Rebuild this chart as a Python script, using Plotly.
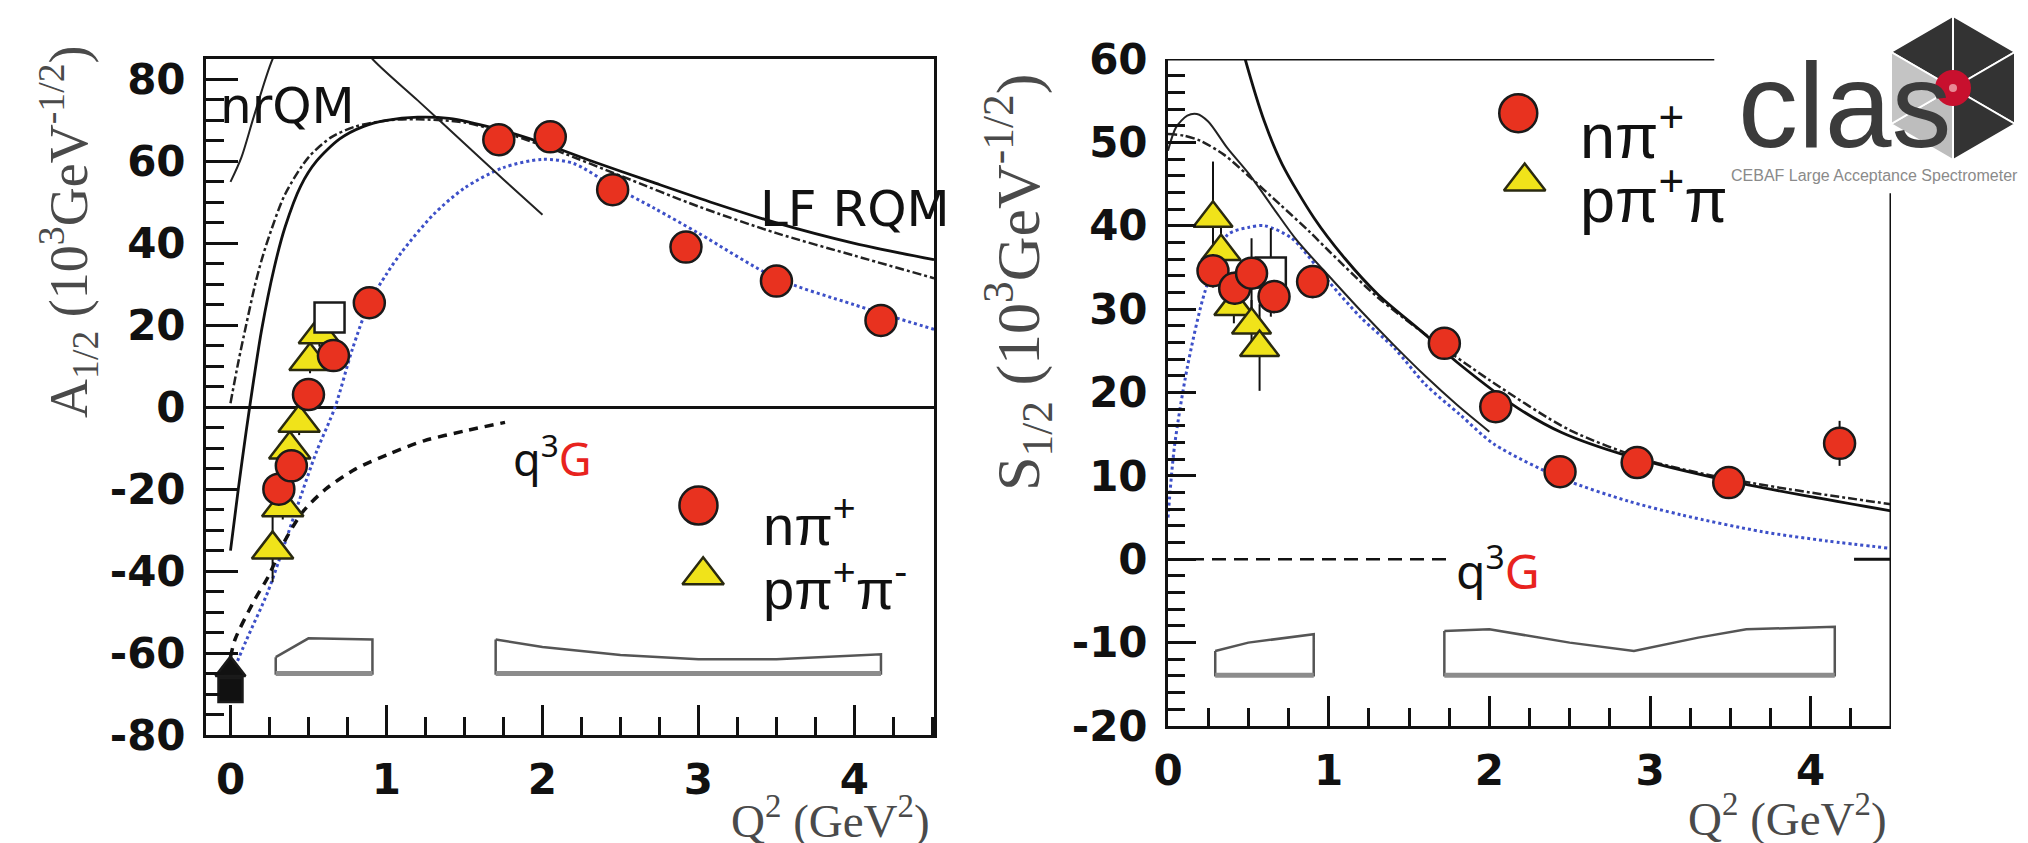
import plotly.graph_objects as go

W, H = 2028, 843

# ================= A1/2 panel (left) =================
a_npi_q2 = [0.31, 0.39, 0.50, 0.66, 0.89, 1.72, 2.05, 2.45, 2.92, 3.50, 4.17]
a_npi_val = [-20.0, -14.3, 3.1, 12.6, 25.5, 65.3, 66.0, 53.1, 39.1, 30.8, 21.2]
a_npi_err = [2.0, 2.0, 2.0, 2.0, 2.0, 2.0, 2.0, 2.0, 2.0, 2.0, 2.0]

a_ppp_q2 = [0.27, 0.335, 0.38, 0.44, 0.51, 0.57]
a_ppp_val = [-34.7, -24.4, -10.3, -3.8, 11.3, 17.8]
a_ppp_err = [8.0, 3.0, 3.0, 3.0, 3.0, 3.0]

a_sq_q2 = [0.635]
a_sq_val = [21.9]

a_pdg_q2 = [0.0]
a_pdg_sq_val = [-69.0]
a_pdg_tri_val = [-64.0]

a_lf_q2 = [0, 0.05, 0.1, 0.15, 0.2, 0.28, 0.35, 0.45, 0.55, 0.7, 0.85, 1.0, 1.2, 1.4, 1.7, 2.0, 2.3, 2.7, 3.1, 3.5, 4.0, 4.51]
a_lf_val = [-35, -20, -6, 7, 19, 34, 44, 54, 60, 65.5, 68.5, 70, 70.8, 70.5, 68, 64.5, 60.3, 55, 49.8, 45, 40, 36]

a_nr_q2 = [0, 0.07, 0.15, 0.27, 0.4, 0.55, 0.7, 0.91, 1.2, 1.5, 1.75, 2.0]
a_nr_val = [55, 61, 71, 85, 94, 98, 95, 85, 74.9, 64.4, 55.6, 47]

a_dd_q2 = [0, 0.05, 0.1, 0.155, 0.2, 0.25, 0.35, 0.5, 0.65, 0.8, 1.0, 1.2, 1.5, 1.8, 2.1, 2.5, 3.0, 3.5, 4.0, 4.51]
a_dd_val = [1, 11, 20, 29.5, 36, 42, 52, 61, 66, 68.5, 70, 70.3, 69.5, 66.5, 62.5, 56.5, 49, 42.5, 37, 31.5]

a_q3g_q2 = [0, 0.03, 0.155, 0.24, 0.35, 0.464, 0.61, 0.80, 1.01, 1.24, 1.50, 1.76]
a_q3g_val = [-61, -56.6, -47, -41.5, -32.5, -25.5, -20, -15.1, -11.5, -8.2, -5.8, -3.7]

a_blue_q2 = [0, 0.1, 0.24, 0.35, 0.43, 0.55, 0.67, 0.78, 0.89, 1.0, 1.1, 1.3, 1.5, 1.75, 2.0, 2.2, 2.45, 2.72, 3.0, 3.5, 4.0, 4.51]
a_blue_val = [-66, -57, -45, -33, -24, -11, 0, 14, 25.5, 32.5, 38, 47, 53.5, 58.5, 60.5, 59.5, 54, 48.5, 42.5, 31.5, 25, 19]

a_sys1_q2 = [0.29, 0.5, 0.91]
a_sys1_top = [-61.0, -56.4, -56.7]
a_sys2_q2 = [1.70, 2.0, 2.5, 3.0, 3.5, 4.17]
a_sys2_top = [-56.7, -58.5, -60.5, -61.5, -61.5, -60.3]
a_sys_bottom = -65.0

a_ytick_vals = [-80, -60, -40, -20, 0, 20, 40, 60, 80]
a_ytick_text = ["-80", "-60", "-40", "-20", "0", "20", "40", "60", "80"]

# ================= S1/2 panel (right) =================
s_npi_q2 = [0.28, 0.415, 0.52, 0.66, 0.90, 1.72, 2.04, 2.44, 2.92, 3.49, 4.18]
s_npi_val = [34.6, 32.5, 34.3, 31.5, 33.3, 25.9, 18.3, 10.5, 11.6, 9.2, 13.9]
s_npi_err = [2.0, 2.0, 4.2, 2.0, 2.0, 1.5, 1.5, 1.5, 1.8, 1.8, 2.7]

s_ppp_q2 = [0.28, 0.33, 0.41, 0.52, 0.57]
s_ppp_val = [40.9, 36.9, 30.3, 28.1, 25.4]
s_ppp_err = [6.8, 3.0, 2.0, 3.0, 5.2]

s_sq_q2 = [0.64]
s_sq_val = [34.4]
s_sq_err = [5.3]

s_lf_q2 = [0.4, 0.48, 0.6, 0.71, 0.91, 1.10, 1.31, 1.58, 1.82, 2.18, 2.45, 2.86, 3.49, 4.0, 4.5]
s_lf_val = [66, 60, 52.5, 47.4, 40.9, 36.1, 31.7, 27.3, 23.3, 18.1, 15.2, 12.4, 9.4, 7.5, 5.8]

s_nr_q2 = [0, 0.05, 0.12, 0.18, 0.25, 0.37, 0.5, 0.66, 0.8, 1.0, 1.2, 1.4, 1.6, 1.8, 2.0]
s_nr_val = [49, 51.8, 53.2, 53.4, 52.5, 49.3, 46.3, 42, 38.3, 34, 29.8, 25.8, 22, 18.5, 15.3]

s_dd_q2 = [0, 0.1, 0.2, 0.35, 0.5, 0.7, 0.88, 1.0, 1.3, 1.6, 2.0, 2.5, 3.0, 3.5, 4.0, 4.5]
s_dd_val = [51, 50.8, 50.2, 48.5, 46, 42.5, 39.3, 37, 31.5, 27, 21.5, 15.5, 11.8, 9.6, 8.0, 6.6]

s_blue_q2 = [0, 0.04, 0.12, 0.23, 0.37, 0.5, 0.6, 0.77, 1.0, 1.2, 1.41, 1.6, 1.82, 2.03, 2.45, 2.86, 3.2, 3.7, 4.1, 4.5]
s_blue_val = [5, 13.5, 23, 32.1, 38.9, 39.8, 40, 38.5, 33.3, 29, 25.3, 21, 17.3, 13.8, 9.7, 7.0, 5.3, 3.3, 2.2, 1.3]

s_q3g_q2 = [0.0, 1.75]
s_q3g_val = [0.0, 0.0]
s_q3g_end_q2 = [4.27, 4.5]
s_q3g_end_val = [0.0, 0.0]

s_sys1_q2 = [0.294, 0.5, 0.907]
s_sys1_top = [-11.0, -10.0, -9.0]
s_sys2_q2 = [1.72, 2.0, 2.5, 2.9, 3.3, 3.6, 4.15]
s_sys2_top = [-8.6, -8.4, -10.0, -11.0, -9.4, -8.4, -8.1]
s_sys_bottom = -13.9

s_ytick_vals = [-20, -10, 0, 10, 20, 30, 40, 50, 60]
s_ytick_text = ["-20", "-10", "0", "10", "20", "30", "40", "50", "60"]

# ================= styles =================
RED = "#e8321f"
YEL = "#f0e31a"
BLUE = "#3d50c8"
GRAYTXT = "#4a4a4a"
SANS = "Liberation Sans, Arial, sans-serif"
WIDE = "DejaVu Sans, Verdana, sans-serif"
SERIF = "Liberation Serif, Times New Roman, serif"

fig = go.Figure()


def curve(x, y, xa, ya, color, width, dash, spline=True):
    fig.add_trace(go.Scatter(
        x=x, y=y, xaxis=xa, yaxis=ya, mode="lines",
        line=dict(color=color, width=width, dash=dash,
                  shape="spline" if spline else "linear", smoothing=0.8),
        showlegend=False, hoverinfo="skip"))


def band(xs, tops, bottom, xa, ya):
    bx = list(xs) + [xs[-1], xs[0], xs[0]]
    by = list(tops) + [bottom, bottom, tops[0]]
    fig.add_trace(go.Scatter(x=bx, y=by, xaxis=xa, yaxis=ya, mode="lines",
                             line=dict(color="#555555", width=2.5),
                             showlegend=False, hoverinfo="skip"))
    fig.add_trace(go.Scatter(x=[xs[0], xs[-1]], y=[bottom, bottom], xaxis=xa, yaxis=ya,
                             mode="lines", line=dict(color="#8c8c8c", width=5),
                             showlegend=False, hoverinfo="skip"))


def points(x, y, err, xa, ya, symbol, size, color, lcolor="#1a1a1a"):
    fig.add_trace(go.Scatter(
        x=x, y=y, xaxis=xa, yaxis=ya, mode="markers",
        error_y=dict(type="data", array=err, color="#111111", thickness=2, width=0) if err else None,
        marker=dict(symbol=symbol, size=size, color=color, line=dict(color=lcolor, width=2.5)),
        showlegend=False, hoverinfo="skip", cliponaxis=False))


# ---- left panel ----
band(a_sys1_q2, a_sys1_top, a_sys_bottom, "x", "y")
band(a_sys2_q2, a_sys2_top, a_sys_bottom, "x", "y")
curve(a_blue_q2, a_blue_val, "x", "y", BLUE, 3, "dot")
curve(a_q3g_q2, a_q3g_val, "x", "y", "#111111", 3.5, "9px,7px")
curve(a_dd_q2, a_dd_val, "x", "y", "#222222", 2.5, "dashdot")
curve(a_nr_q2, a_nr_val, "x", "y", "#222222", 2, "solid")
curve(a_lf_q2, a_lf_val, "x", "y", "#111111", 2.8, "solid")
points(a_pdg_q2, a_pdg_sq_val, [3.0], "x", "y", "square", 24, "#111111")
points(a_pdg_q2, a_pdg_tri_val, None, "x", "y", "triangle-up", 26, "#111111")
points(a_ppp_q2, a_ppp_val, a_ppp_err, "x", "y", "triangle-up", 36, YEL, "#2a2a10")
points(a_sq_q2, a_sq_val, None, "x", "y", "square", 30, "white")
points(a_npi_q2, a_npi_val, a_npi_err, "x", "y", "circle", 31, RED)
# legend keys
points([3.0], [-24.0], None, "x", "y", "circle", 38, RED)
points([3.03], [-41.0], None, "x", "y", "triangle-up", 36, YEL, "#2a2a10")

# ---- right panel ----
band(s_sys1_q2, s_sys1_top, s_sys_bottom, "x2", "y2")
band(s_sys2_q2, s_sys2_top, s_sys_bottom, "x2", "y2")
curve(s_blue_q2, s_blue_val, "x2", "y2", BLUE, 3, "dot")
curve(s_q3g_q2, s_q3g_val, "x2", "y2", "#111111", 2.5, "14px,8px", spline=False)
curve(s_q3g_end_q2, s_q3g_end_val, "x2", "y2", "#111111", 3, "solid", spline=False)
curve(s_dd_q2, s_dd_val, "x2", "y2", "#222222", 2.5, "dashdot")
curve(s_nr_q2, s_nr_val, "x2", "y2", "#222222", 2, "solid")
curve(s_lf_q2, s_lf_val, "x2", "y2", "#111111", 2.8, "solid")
points(s_ppp_q2, s_ppp_val, s_ppp_err, "x2", "y2", "triangle-up", 34, YEL, "#2a2a10")
points(s_sq_q2, s_sq_val, s_sq_err, "x2", "y2", "square", 30, "white")
points(s_npi_q2, s_npi_val, s_npi_err, "x2", "y2", "circle", 31, RED)
points([2.18], [53.5], None, "x2", "y2", "circle", 38, RED)
points([2.22], [45.3], None, "x2", "y2", "triangle-up", 36, YEL, "#2a2a10")

tickfont = dict(family=WIDE, size=42, color="#111111", weight="bold")
common = dict(showgrid=False, showline=True, linecolor="#111111", linewidth=3, automargin=False,
              ticks="inside", tickcolor="#111111", tickwidth=3, tickfont=tickfont)

fig.update_layout(
    width=W, height=H, margin=dict(l=0, r=0, t=0, b=0, autoexpand=False),
    paper_bgcolor="white", plot_bgcolor="white", showlegend=False,
    xaxis=dict(domain=[198 / W, 926 / W], range=[-0.157, 4.51], anchor="y", mirror=True,
               dtick=1, tick0=0, ticklen=30, zeroline=False, ticklabelstandoff=6,
               minor=dict(ticks="inside", dtick=0.25, tick0=0, ticklen=18, tickwidth=3,
                          tickcolor="#111111", showgrid=False), **common),
    yaxis=dict(domain=[1 - 727 / H, 1 - 51 / H], range=[-80, 85], anchor="x", mirror=True,
               tickvals=a_ytick_vals, ticktext=a_ytick_text, ticklen=32,
               zeroline=True, zerolinecolor="#111111", zerolinewidth=3, ticklabelstandoff=9,
               minor=dict(ticks="inside", dtick=5, tick0=0, ticklen=18, tickwidth=3,
                          tickcolor="#111111", showgrid=False), **common),
    xaxis2=dict(domain=[1160 / W, 1883 / W], range=[0, 4.5], anchor="y2", mirror=False,
                dtick=1, tick0=0, ticklen=30, zeroline=False, ticklabelstandoff=6,
                minor=dict(ticks="inside", dtick=0.25, tick0=0, ticklen=18, tickwidth=3,
                           tickcolor="#111111", showgrid=False), **common),
    yaxis2=dict(domain=[1 - 718 / H, 1 - 51 / H], range=[-20, 60], anchor="x2", mirror=False,
                tickvals=s_ytick_vals, ticktext=s_ytick_text, ticklen=28, zeroline=False,
                ticklabelstandoff=9,
                minor=dict(ticks="inside", dtick=2, tick0=0, ticklen=17, tickwidth=3,
                           tickcolor="#111111", showgrid=False), **common),
)

# right panel frame pieces (top line ends under the logo, right edge starts below it)
fig.add_shape(type="line", xref="x2", yref="y2", x0=0, x1=3.40, y0=60, y1=60,
              line=dict(color="#111111", width=3))
fig.add_shape(type="line", xref="x2", yref="y2", x0=4.5, x1=4.5, y0=-20, y1=43.9,
              line=dict(color="#111111", width=3))

# ---------------- logo ----------------
def P(x, y):
    return x / W, 1 - y / H

C = (1945, 80)
V = {"top": (1945, 8), "UR": (2007, 44), "LR": (2007, 116),
     "bot": (1945, 152), "LL": (1883, 116), "UL": (1883, 44)}
faces = [("UL", "top", "#333333"), ("top", "UR", "#333333"), ("UR", "LR", "#333333"),
         ("LR", "bot", "#333333"), ("bot", "LL", "#bdbdbd"), ("LL", "UL", "#c4c4c4")]
for a, b, col in faces:
    pts = [P(*C), P(*V[a]), P(*V[b])]
    path = "M{},{} L{},{} L{},{} Z".format(pts[0][0], pts[0][1], pts[1][0], pts[1][1], pts[2][0], pts[2][1])
    fig.add_shape(type="path", xref="paper", yref="paper", path=path,
                  fillcolor=col, line=dict(color="white", width=2), layer="above")
fig.add_shape(type="circle", xref="paper", yref="paper",
              x0=(C[0] - 18) / W, x1=(C[0] + 18) / W, y0=1 - (C[1] + 18) / H, y1=1 - (C[1] - 18) / H,
              fillcolor="#c8102e", line=dict(width=0), layer="above")
fig.add_shape(type="circle", xref="paper", yref="paper",
              x0=(C[0] - 4) / W, x1=(C[0] + 4) / W, y0=1 - (C[1] + 4) / H, y1=1 - (C[1] - 4) / H,
              fillcolor="#e88a95", line=dict(width=0), layer="above")

ann = []


def text(x, y, s, size, color="#111111", family=SANS, xanchor="left", yanchor="middle",
         xref="paper", yref="paper", angle=0, weight="normal"):
    ann.append(dict(x=x, y=y, text=s, xref=xref, yref=yref, xanchor=xanchor, yanchor=yanchor,
                    showarrow=False, textangle=angle,
                    font=dict(family=family, size=size, color=color, weight=weight)))


text(1836 / W, 1 - 97 / H, "clas", 120, "#3b3b3b", xanchor="center")
text(1866 / W, 1 - 167 / H, "CEBAF Large Acceptance Spectrometer", 16, "#8a8a8a", xanchor="center")

# axis titles
text(60 / W, 1 - 224 / H, "A<sub>1/2</sub> (10<sup>3</sup>GeV<sup>-1/2</sup>)", 54, GRAYTXT,
     SERIF, xanchor="center", angle=-90)
text(1010 / W, 1 - 275 / H, "S<sub>1/2</sub> (10<sup>3</sup>GeV<sup>-1/2</sup>)", 62, GRAYTXT,
     SERIF, xanchor="center", angle=-90)
text(924 / W, 1 - 809 / H, "Q<sup>2</sup> (GeV<sup>2</sup>)", 47, GRAYTXT, SERIF, xanchor="right")
text(1881 / W, 1 - 807 / H, "Q<sup>2</sup> (GeV<sup>2</sup>)", 47, GRAYTXT, SERIF, xanchor="right")

# model labels
text(-0.08, 73.5, "nrQM", 50, family=WIDE, xref="x", yref="y")
text(3.38, 48.5, "LF RQM", 50, family=WIDE, xref="x", yref="y")
text(1.80, -12.0, "q<sup>3</sup><span style='color:#e8231e'>G</span>", 45,
     family="Noto Sans, sans-serif", xref="x", yref="y")
text(1.78, -1.0, "q<sup>3</sup><span style='color:#e8231e'>G</span>", 48,
     family="Noto Sans, sans-serif", xref="x2", yref="y2")

# legend texts
text(3.40, -28.0, "nπ<sup>+</sup>", 56, xref="x", yref="y")
text(3.40, -43.5, "pπ<sup>+</sup>π<sup>-</sup>", 56, xref="x", yref="y")
text(2.55, 51.3, "nπ<sup>+</sup>", 63, xref="x2", yref="y2")
text(2.55, 43.6, "pπ<sup>+</sup>π", 63, xref="x2", yref="y2")

fig.update_layout(annotations=ann)
fig.write_html("out.html")
